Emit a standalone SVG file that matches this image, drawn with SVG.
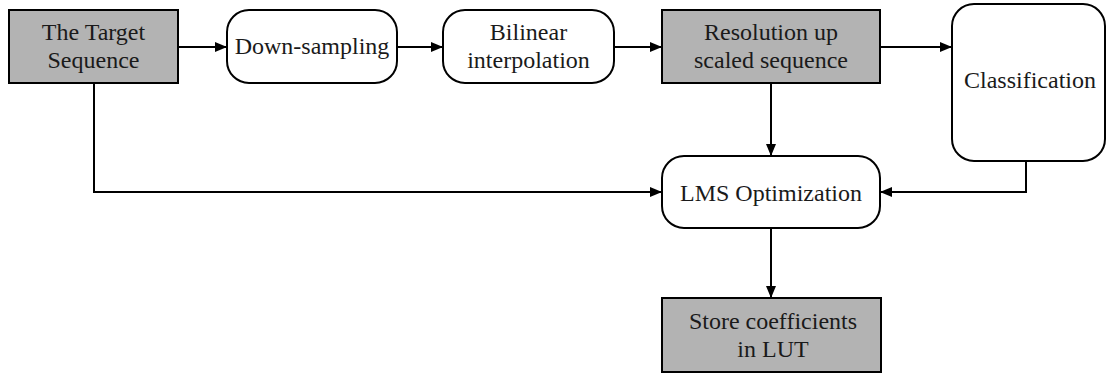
<svg xmlns="http://www.w3.org/2000/svg" width="1107" height="376" viewBox="0 0 1107 376">
<style>
.box{stroke:#000;stroke-width:2}
.g{fill:#b3b3b3}
.w{fill:#fff}
.t{fill:#1a1a1a;text-anchor:middle}
.c{fill:none;stroke:#000;stroke-width:2}
</style>
<defs>
<marker id="ah" viewBox="0 0 12 10" refX="12" refY="5" markerWidth="12" markerHeight="10" markerUnits="userSpaceOnUse" orient="auto">
<path d="M0,0 L12,5 L0,10 Z" fill="#000"/>
</marker>
</defs>
<rect width="1107" height="376" fill="#fff"/>
<g id="connectors">
<line class="c" x1="178" y1="47" x2="227" y2="47" marker-end="url(#ah)"/>
<line class="c" x1="397" y1="47" x2="443" y2="47" marker-end="url(#ah)"/>
<line class="c" x1="614" y1="47" x2="662" y2="47" marker-end="url(#ah)"/>
<line class="c" x1="880" y1="47" x2="952" y2="47" marker-end="url(#ah)"/>
<line class="c" x1="771" y1="83" x2="771" y2="156" marker-end="url(#ah)"/>
<polyline class="c" points="94,83 94,192 662,192" marker-end="url(#ah)"/>
<polyline class="c" points="1026,161 1026,192 880,192" marker-end="url(#ah)"/>
<line class="c" x1="771" y1="228" x2="771" y2="298" marker-end="url(#ah)"/>
</g>
<g font-family="Liberation Serif, Times New Roman, serif" font-size="24">
<g id="target">
<rect class="box g" x="9" y="10" width="169" height="73"/>
<text class="t" x="93.5" y="40">The Target</text>
<text class="t" x="93.5" y="68">Sequence</text>
</g>
<g id="downsampling">
<rect class="box w" x="227" y="10" width="170" height="73" rx="22"/>
<text class="t" x="312" y="54">Down-sampling</text>
</g>
<g id="bilinear">
<rect class="box w" x="443" y="10" width="171" height="73" rx="22"/>
<text class="t" x="528.5" y="40">Bilinear</text>
<text class="t" x="528.5" y="68">interpolation</text>
</g>
<g id="resolution">
<rect class="box g" x="662" y="10" width="218" height="73"/>
<text class="t" x="771" y="40">Resolution up</text>
<text class="t" x="771" y="68">scaled sequence</text>
</g>
<g id="classification">
<rect class="box w" x="952" y="4" width="153" height="157" rx="22"/>
<text class="t" x="1030" y="88">Classification</text>
</g>
<g id="lms">
<rect class="box w" x="662" y="156" width="218" height="72" rx="22"/>
<text class="t" x="771" y="201">LMS Optimization</text>
</g>
<g id="store">
<rect class="box g" x="662" y="298" width="219" height="74"/>
<text class="t" x="773" y="329">Store coefficients</text>
<text class="t" x="773" y="357">in LUT</text>
</g>
</g>
</svg>
